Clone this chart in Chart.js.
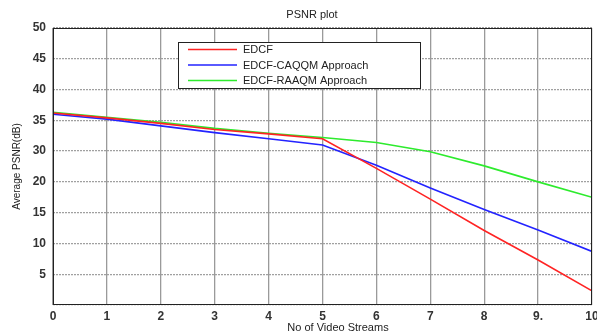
<!DOCTYPE html>
<html>
<head>
<meta charset="utf-8">
<script src="https://cdn.jsdelivr.net/npm/chart.js@4/dist/chart.umd.min.js"></script>
<style>
  html, body { margin: 0; padding: 0; background: #fff; }
  #wrap { width: 597px; height: 333px; position: relative; }
</style>
</head>
<body>
<div id="wrap"><canvas id="psnrChart"></canvas></div>
<script>
// x positions (no of video streams)
const streams = [0, 1, 2, 3, 4, 5, 6, 7, 8, 9, 10];
const xTickLabels = ['0', '1', '2', '3', '4', '5', '6', '7', '8', '9.', '10'];
// the y axis of the original skips "25", so the gridlines are labelled like this (bottom to top)
const yTickLabels = ['', '5', '10', '15', '20', '30', '35', '40', '45', '50'];

// values in axis units (gridline steps of 5)
const edcf      = [31.2, 30.4, 29.5, 28.5, 27.8, 27.0, 22.2, 17.2, 12.1, 7.3, 2.3];
const edcfCaqqm = [31.0, 30.2, 29.1, 28.0, 27.0, 26.0, 22.7, 19.0, 15.5, 12.2, 8.7];
const edcfRaaqm = [31.3, 30.5, 29.7, 28.7, 27.9, 27.2, 26.4, 24.9, 22.6, 20.0, 17.5];

const seriesNames = ['EDCF', 'EDCF-CAQQM Approach', 'EDCF-RAAQM Approach'];
const seriesColors = ['rgb(255,35,35)', 'rgb(35,35,255)', 'rgb(45,235,45)'];

const FONT = '"Liberation Sans", Arial, sans-serif';

function toPoints(vals) {
    return vals.map((v, i) => ({ x: streams[i], y: v }));
}

// title, x axis title, frame and the boxed legend inside the plot
const decorations = {
    id: 'decorations',
    afterDatasetsDraw(chart) {
        const { ctx, chartArea: a } = chart;
        ctx.save();
        // frame
        ctx.strokeStyle = '#222';
        ctx.lineWidth = 1;
        ctx.strokeRect(a.left + 0.5, a.top + 0.5, a.right - a.left - 1, a.bottom - a.top - 1);

        // titles
        ctx.fillStyle = '#222';
        ctx.font = '11px ' + FONT;
        ctx.textAlign = 'center';
        ctx.textBaseline = 'middle';
        ctx.fillText('PSNR plot', 312, 15);
        ctx.fillText('No of Video Streams', 338, 328);

        // legend
        const lx = a.left + 125, ly = a.top + 14, lw = 242, lh = 46;
        ctx.fillStyle = '#fff';
        ctx.fillRect(lx, ly, lw, lh);
        ctx.strokeStyle = '#222';
        ctx.strokeRect(lx + 0.5, ly + 0.5, lw, lh);
        ctx.font = '11px ' + FONT;
        ctx.textAlign = 'left';
        seriesNames.forEach((name, i) => {
            const y = ly + 7.5 + i * 15.5;
            ctx.strokeStyle = seriesColors[i];
            ctx.lineWidth = 1.6;
            ctx.beginPath();
            ctx.moveTo(lx + 10, y);
            ctx.lineTo(lx + 59, y);
            ctx.stroke();
            ctx.fillStyle = '#222';
            ctx.fillText(name, lx + 65, y + 0.5);
        });
        ctx.restore();
    }
};

new Chart(document.getElementById('psnrChart'), {
    type: 'line',
    data: {
        datasets: [
            { label: seriesNames[0], data: toPoints(edcf), borderColor: seriesColors[0] },
            { label: seriesNames[1], data: toPoints(edcfCaqqm), borderColor: seriesColors[1] },
            { label: seriesNames[2], data: toPoints(edcfRaaqm), borderColor: seriesColors[2] }
        ]
    },
    options: {
        responsive: true,
        maintainAspectRatio: false,
        animation: false,
        layout: { padding: { top: 28, right: 5, left: 0, bottom: 0 } },
        elements: {
            line: { borderWidth: 1.6, tension: 0 },
            point: { radius: 0 }
        },
        plugins: {
            legend: { display: false },
            tooltip: { enabled: false }
        },
        scales: {
            x: {
                type: 'linear',
                min: 0, max: 10,
                ticks: {
                    stepSize: 1,
                    padding: 4,
                    maxRotation: 0,
                    color: '#333',
                    font: { family: FONT, size: 12, weight: 'bold' },
                    callback: v => xTickLabels[v]
                },
                grid: { color: '#9a9a9a', lineWidth: 1.3, drawTicks: false },
                border: { display: false },
                afterFit: s => { s.height = 28; s.paddingLeft = 0; s.paddingRight = 0; }
            },
            y: {
                type: 'linear',
                min: 0, max: 45,
                ticks: {
                    stepSize: 5,
                    padding: 7,
                    color: '#333',
                    font: { family: FONT, size: 12, weight: 'bold' },
                    callback: v => yTickLabels[v / 5]
                },
                grid: { color: '#a0a0a0', lineWidth: 1.3, drawTicks: false },
                border: { display: false, dash: [2, 1] },
                title: {
                    display: true,
                    text: 'Average PSNR(dB)',
                    color: '#222',
                    font: { family: FONT, size: 10 },
                    padding: { top: 11, bottom: 0 }
                },
                afterFit: s => { s.width = 53; }
            }
        }
    },
    plugins: [decorations]
});
</script>
</body>
</html>
